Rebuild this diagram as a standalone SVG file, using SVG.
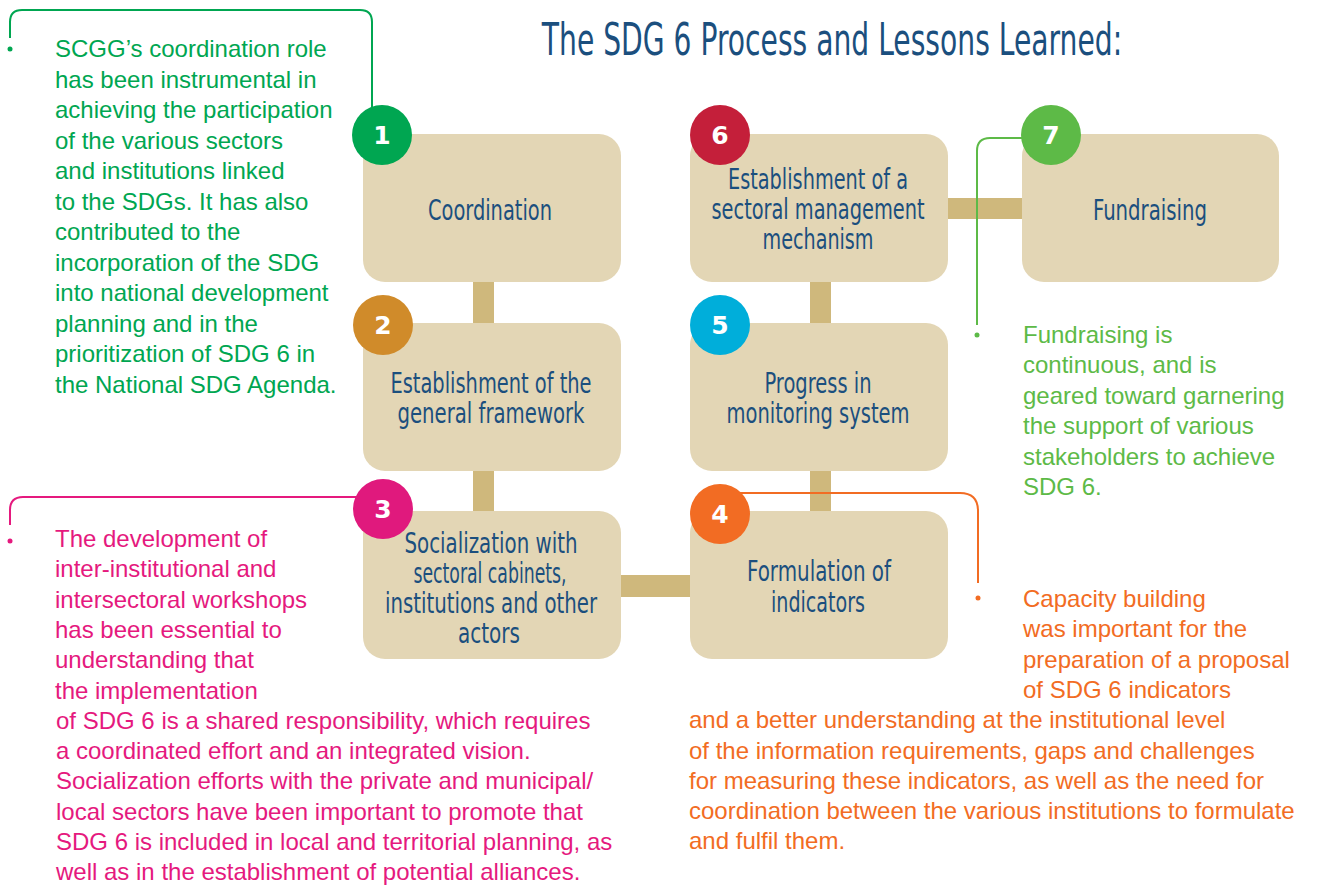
<svg xmlns="http://www.w3.org/2000/svg" width="1322" height="885" viewBox="0 0 1322 885">
<style>
.bg{fill:#ffffff}
.box{fill:#e3d6b5}
.bar{fill:#cfb87c}
.lbl{font-family:"Liberation Sans Narrow","DejaVu Sans Condensed","DejaVu Sans",sans-serif;font-stretch:condensed;font-size:28px;fill:#1b4f7e;text-anchor:middle}
.title{font-family:"Liberation Sans Narrow","DejaVu Sans Condensed","DejaVu Sans",sans-serif;font-stretch:condensed;font-size:44px;fill:#1b4f7e;text-anchor:middle}
.num{font-family:"DejaVu Sans",sans-serif;font-weight:bold;font-size:25px;fill:#ffffff;text-anchor:middle}
.body{font-family:"Liberation Sans",Arial,sans-serif;font-size:24px}
.lead{fill:none;stroke-width:2}
</style>
<rect class="bg" x="0" y="0" width="1322" height="885"/>
<text class="title" transform="translate(832,55) scale(0.712,1)" x="0" y="0">The SDG 6 Process and Lessons Learned:</text>

<g id="connectors">
  <rect class="bar" x="473" y="280" width="21" height="45"/>
  <rect class="bar" x="473" y="469" width="21" height="44"/>
  <rect class="bar" x="810" y="280" width="21" height="45"/>
  <rect class="bar" x="810" y="469" width="21" height="44"/>
  <rect class="bar" x="946" y="198" width="78" height="21"/>
  <rect class="bar" x="619" y="575" width="73" height="22"/>
</g>

<g id="callouts">
  <path class="lead" stroke="#00a651" d="M10,38 V22 Q10,10 22,10 H360 Q372,10 372,22 V112"/>
  <circle cx="10" cy="49" r="2.5" fill="#00a651"/>
  <path class="lead" stroke="#e5197e" d="M10,525 V510 Q10,497 23,497 H362"/>
  <circle cx="10" cy="541" r="2.5" fill="#e5197e"/>
  <path class="lead" stroke="#5dba47" d="M1028,138 H990 Q977,138 977,151 V325"/>
  <circle cx="977" cy="335" r="2.5" fill="#5dba47"/>
  <path class="lead" stroke="#f26c23" d="M738,493 H960 Q978,493 978,511 V583"/>
  <circle cx="978" cy="598" r="2.5" fill="#f26c23"/>
</g>

<g id="node1">
  <rect class="box" x="363" y="134" width="258" height="148" rx="22"/>
  <circle cx="382" cy="135" r="30" fill="#00a651"/>
  <text class="num" x="382" y="144">1</text>
  <text class="lbl" x="490" y="220" textLength="124" lengthAdjust="spacingAndGlyphs">Coordination</text>
</g>
<g id="node2">
  <rect class="box" x="363" y="323" width="258" height="148" rx="22"/>
  <circle cx="383" cy="325" r="30" fill="#d08b2a"/>
  <text class="num" x="383" y="334">2</text>
  <text class="lbl" x="491" y="393" textLength="201" lengthAdjust="spacingAndGlyphs">Establishment of the</text>
  <text class="lbl" x="491" y="423" textLength="187" lengthAdjust="spacingAndGlyphs">general framework</text>
</g>
<g id="node3">
  <rect class="box" x="363" y="511" width="258" height="148" rx="22"/>
  <circle cx="383" cy="509" r="30" fill="#e0197d"/>
  <text class="num" x="383" y="518">3</text>
  <text class="lbl" x="491" y="553" textLength="173" lengthAdjust="spacingAndGlyphs">Socialization with</text>
  <text class="lbl" x="490" y="583" textLength="153" lengthAdjust="spacingAndGlyphs">sectoral cabinets,</text>
  <text class="lbl" x="491" y="613" textLength="212" lengthAdjust="spacingAndGlyphs">institutions and other</text>
  <text class="lbl" x="489" y="643" textLength="62" lengthAdjust="spacingAndGlyphs">actors</text>
</g>
<g id="node4">
  <rect class="box" x="690" y="511" width="258" height="148" rx="22"/>
  <circle cx="720" cy="514" r="30" fill="#f26c23"/>
  <text class="num" x="720" y="523">4</text>
  <text class="lbl" x="819" y="581" textLength="144" lengthAdjust="spacingAndGlyphs">Formulation of</text>
  <text class="lbl" x="818" y="612" textLength="94" lengthAdjust="spacingAndGlyphs">indicators</text>
</g>
<g id="node5">
  <rect class="box" x="690" y="323" width="258" height="148" rx="22"/>
  <circle cx="720" cy="325" r="30" fill="#00aeda"/>
  <text class="num" x="720" y="334">5</text>
  <text class="lbl" x="818" y="393" textLength="107" lengthAdjust="spacingAndGlyphs">Progress in</text>
  <text class="lbl" x="818" y="423" textLength="183" lengthAdjust="spacingAndGlyphs">monitoring system</text>
</g>
<g id="node6">
  <rect class="box" x="690" y="134" width="258" height="148" rx="22"/>
  <circle cx="720" cy="135" r="30" fill="#c41f3a"/>
  <text class="num" x="720" y="144">6</text>
  <text class="lbl" x="818" y="189" textLength="180" lengthAdjust="spacingAndGlyphs">Establishment of a</text>
  <text class="lbl" x="818" y="219" textLength="213" lengthAdjust="spacingAndGlyphs">sectoral management</text>
  <text class="lbl" x="818" y="249" textLength="111" lengthAdjust="spacingAndGlyphs">mechanism</text>
</g>
<g id="node7">
  <rect class="box" x="1022" y="134" width="257" height="148" rx="22"/>
  <circle cx="1051" cy="135" r="30" fill="#5dba47"/>
  <text class="num" x="1051" y="144">7</text>
  <text class="lbl" x="1150" y="220" textLength="114" lengthAdjust="spacingAndGlyphs">Fundraising</text>
</g>

<g id="note-coordination" class="body" fill="#00a651">
  <text x="55" y="57">SCGG’s coordination role</text>
  <text x="55" y="87.5">has been instrumental in</text>
  <text x="55" y="118">achieving the participation</text>
  <text x="55" y="148.5">of the various sectors</text>
  <text x="55" y="179">and institutions linked</text>
  <text x="55" y="209.5">to the SDGs. It has also</text>
  <text x="55" y="240">contributed to the</text>
  <text x="55" y="270.5">incorporation of the SDG</text>
  <text x="55" y="301">into national development</text>
  <text x="55" y="331.5">planning and in the</text>
  <text x="55" y="362">prioritization of SDG 6 in</text>
  <text x="55" y="392.5">the National SDG Agenda.</text>
</g>

<g id="note-socialization" class="body" fill="#e5197e">
  <text x="55" y="547">The development of</text>
  <text x="55" y="577.3">inter-institutional and</text>
  <text x="55" y="607.6">intersectoral workshops</text>
  <text x="55" y="637.9">has been essential to</text>
  <text x="55" y="668.2">understanding that</text>
  <text x="55" y="698.5">the implementation</text>
  <text x="56" y="728.8">of SDG 6 is a shared responsibility, which requires</text>
  <text x="56" y="759.1">a coordinated effort and an integrated vision.</text>
  <text x="56" y="789.4">Socialization efforts with the private and municipal/</text>
  <text x="56" y="819.7">local sectors have been important to promote that</text>
  <text x="56" y="850">SDG 6 is included in local and territorial planning, as</text>
  <text x="56" y="880.3">well as in the establishment of potential alliances.</text>
</g>

<g id="note-fundraising" class="body" fill="#5dba47">
  <text x="1023" y="343">Fundraising is</text>
  <text x="1023" y="373.4">continuous, and is</text>
  <text x="1023" y="403.8">geared toward garnering</text>
  <text x="1023" y="434.2">the support of various</text>
  <text x="1023" y="464.6">stakeholders to achieve</text>
  <text x="1023" y="495">SDG 6.</text>
</g>

<g id="note-indicators" class="body" fill="#f26c23">
  <text x="1023" y="607">Capacity building</text>
  <text x="1023" y="637.3">was important for the</text>
  <text x="1023" y="667.6">preparation of a proposal</text>
  <text x="1023" y="697.9">of SDG 6 indicators</text>
  <text x="689" y="728.2">and a better understanding at the institutional level</text>
  <text x="689" y="758.5">of the information requirements, gaps and challenges</text>
  <text x="689" y="788.8">for measuring these indicators, as well as the need for</text>
  <text x="689" y="819.1">coordination between the various institutions to formulate</text>
  <text x="689" y="849.4">and fulfil them.</text>
</g>
</svg>
